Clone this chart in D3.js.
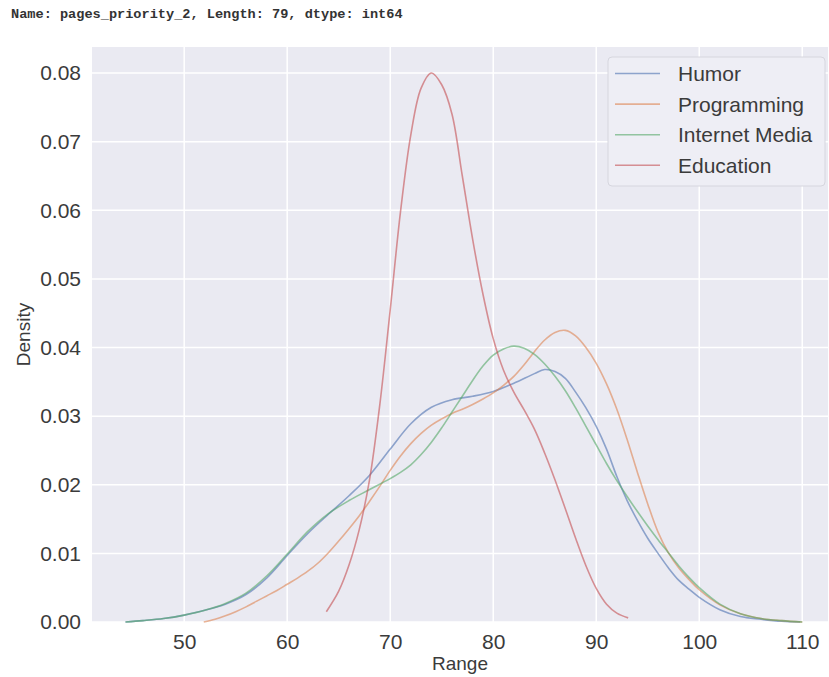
<!DOCTYPE html>
<html>
<head>
<meta charset="utf-8">
<script src="https://cdn.jsdelivr.net/npm/d3@7"></script>
<style>
    body { margin: 0; background: #ffffff; }
    .header { font-family: "Liberation Mono", "DejaVu Sans Mono", monospace; font-weight: bold; font-size: 13.6px; fill: #333333; }
    .tick text { font-family: "Liberation Sans", Arial, sans-serif; font-size: 21px; fill: #3b3b3b; }
    .label { font-family: "Liberation Sans", Arial, sans-serif; font-size: 19px; fill: #3b3b3b; }
    .legend text { font-family: "Liberation Sans", Arial, sans-serif; font-size: 21px; fill: #3b3b3b; }
</style>
</head>
<body>
<div id="chart"></div>
<script>

let seriesNames = ["Humor", "Programming", "Internet Media", "Education"];

let seriesColors = ["#4c72b0", "#dd8452", "#55a868", "#c44e52"];

let xTicks = [50, 60, 70, 80, 90, 100, 110];

let yTicks = [0.00, 0.01, 0.02, 0.03, 0.04, 0.05, 0.06, 0.07, 0.08];

// KDE curves: [range, density]
let humor = [
    [44.3, 0.0000], [46, 0.0002], [48, 0.0005], [50, 0.0010], [52, 0.0017], [54, 0.0026],
    [56, 0.0040], [58, 0.0064], [60, 0.0097], [62, 0.0129], [64, 0.0157], [66, 0.0184],
    [68, 0.0214], [70, 0.0252], [72, 0.0289], [74, 0.0313], [76, 0.0324], [78, 0.0329],
    [80, 0.0336], [82, 0.0348], [84, 0.0362], [85, 0.0368], [86, 0.0365], [87, 0.0355],
    [88, 0.0335], [89, 0.0312], [90, 0.0285], [91, 0.0252], [92, 0.0212], [93, 0.0177],
    [94, 0.0148], [95, 0.0122], [96, 0.0100], [97, 0.0079], [98, 0.0061], [99, 0.0048],
    [100, 0.0036], [102, 0.0018], [104, 0.0008], [106, 0.0004], [108, 0.0001], [109.8, 0.0000]
];

let programming = [
    [51.9, 0.0000], [53, 0.0004], [54, 0.0009], [55, 0.0015], [56, 0.0022], [57, 0.0030],
    [58, 0.0038], [59, 0.0046], [60, 0.0055], [61, 0.0064], [62, 0.0074], [63, 0.0086],
    [64, 0.0101], [65, 0.0118], [66, 0.0136], [67, 0.0155], [68, 0.0176], [69, 0.0198],
    [70, 0.0221], [71, 0.0242], [72, 0.0260], [73, 0.0275], [74, 0.0287], [75, 0.0296],
    [76, 0.0304], [77, 0.0310], [78, 0.0317], [79, 0.0325], [80, 0.0334], [81, 0.0345],
    [82, 0.0358], [83, 0.0375], [84, 0.0394], [85, 0.0411], [86, 0.0422], [87, 0.0425],
    [88, 0.0417], [89, 0.0400], [90, 0.0377], [91, 0.0347], [92, 0.0310], [93, 0.0266],
    [94, 0.0218], [95, 0.0172], [96, 0.0131], [97, 0.0101], [98, 0.0079], [99, 0.0062],
    [100, 0.0047], [102, 0.0025], [104, 0.0012], [106, 0.0005], [108, 0.0002], [110, 0.0000]
];

let internetMedia = [
    [44.3, 0.0000], [46, 0.0002], [48, 0.0005], [50, 0.0010], [52, 0.0017], [54, 0.0027],
    [56, 0.0042], [58, 0.0067], [60, 0.0099], [62, 0.0132], [64, 0.0158], [66, 0.0177],
    [68, 0.0193], [70, 0.0209], [71, 0.0218], [72, 0.0229], [73, 0.0244], [74, 0.0262],
    [75, 0.0283], [76, 0.0306], [77, 0.0329], [78, 0.0352], [79, 0.0373], [80, 0.0389],
    [81, 0.0398], [82, 0.0402], [83, 0.0399], [84, 0.0390], [85, 0.0376], [86, 0.0358],
    [87, 0.0337], [88, 0.0312], [89, 0.0285], [90, 0.0258], [91, 0.0231], [92, 0.0206],
    [93, 0.0183], [94, 0.0161], [95, 0.0140], [96, 0.0120], [97, 0.0101], [98, 0.0082],
    [99, 0.0065], [100, 0.0050], [102, 0.0026], [104, 0.0012], [106, 0.0005], [108, 0.0002],
    [110, 0.0000]
];

let education = [
    [63.8, 0.0015], [65, 0.0045], [66, 0.0083], [67, 0.0135], [68, 0.0208], [69, 0.0318],
    [70, 0.0455], [71, 0.0598], [72, 0.0710], [73, 0.0778], [74, 0.0800], [75, 0.0783],
    [76, 0.0740], [77, 0.0650], [78, 0.0558], [79, 0.0478], [80, 0.0413], [81, 0.0367],
    [82, 0.0335], [83, 0.0309], [84, 0.0281], [85, 0.0246], [86, 0.0207], [87, 0.0165],
    [88, 0.0122], [89, 0.0082], [90, 0.0049], [91, 0.0026], [92, 0.0013], [93.1, 0.0006]
];

let allSeries = [humor, programming, internetMedia, education];

let margin = {container_width: 829, container_height: 677, top: 47, right: 1, bottom: 55, left: 92},
    width = margin.container_width - margin.left - margin.right,
    height = margin.container_height - margin.top - margin.bottom;

let root = d3.select("#chart")
    .append("svg")
    .attr("width", margin.container_width)
    .attr("height", margin.container_height);

root.append("text")
    .attr("class", "header")
    .attr("x", 11)
    .attr("y", 17.5)
    .text("Name: pages_priority_2, Length: 79, dtype: int64");

let svg = root.append("g")
    .attr("transform", "translate(" + margin.left + "," + margin.top + ")");

let x = d3.scaleLinear()
    .domain([41.05, 112.5])
    .range([0, width]);

let y = d3.scaleLinear()
    .domain([0, 0.0838])
    .range([height, 0]);

svg.append("rect")
    .attr("width", width)
    .attr("height", height)
    .attr("fill", "#eaeaf2");

// grid
svg.append("g")
    .selectAll("line")
    .data(xTicks)
    .enter()
    .append("line")
    .attr("x1", function(d) { return x(d); })
    .attr("x2", function(d) { return x(d); })
    .attr("y1", 0)
    .attr("y2", height)
    .attr("stroke", "#ffffff")
    .attr("stroke-width", 1.5);

svg.append("g")
    .selectAll("line")
    .data(yTicks)
    .enter()
    .append("line")
    .attr("x1", 0)
    .attr("x2", width)
    .attr("y1", function(d) { return y(d); })
    .attr("y2", function(d) { return y(d); })
    .attr("stroke", "#ffffff")
    .attr("stroke-width", 1.5);

let xAxis = svg.append("g")
    .attr("class", "axis x-axis")
    .attr("transform", "translate(0," + height + ")")
    .call(d3.axisBottom(x).tickValues(xTicks).tickSize(0).tickPadding(10));

let yAxis = svg.append("g")
    .attr("class", "axis y-axis")
    .call(d3.axisLeft(y).tickValues(yTicks).tickSize(0).tickPadding(11).tickFormat(d3.format(".2f")));

svg.selectAll(".domain").remove();

xAxis.selectAll("text").attr("dy", "0.8em");

svg.append("text")
    .attr("class", "label")
    .attr("text-anchor", "middle")
    .attr("x", width / 2)
    .attr("y", height + 48)
    .text("Range");

svg.append("text")
    .attr("class", "label")
    .attr("text-anchor", "middle")
    .attr("transform", "translate(" + (-62) + "," + (height / 2) + ") rotate(-90)")
    .text("Density");

let line = d3.line()
    .x(function(d) { return x(d[0]); })
    .y(function(d) { return y(d[1]); })
    .curve(d3.curveCatmullRom.alpha(0.5));

svg.append("g")
    .selectAll("path")
    .data(allSeries)
    .enter()
    .append("path")
    .attr("d", function(d) { return line(d); })
    .attr("fill", "none")
    .attr("stroke", function(d, i) { return seriesColors[i]; })
    .attr("stroke-opacity", 0.6)
    .attr("stroke-width", 1.6);

// legend
let legend = svg.append("g")
    .attr("class", "legend")
    .attr("transform", "translate(" + (width - 220) + ",10)");

legend.append("rect")
    .attr("width", 217)
    .attr("height", 129)
    .attr("rx", 4)
    .attr("fill", "#eeeef5")
    .attr("stroke", "#d6d6de")
    .attr("stroke-width", 1);

let rows = legend.selectAll(".row")
    .data(seriesNames)
    .enter()
    .append("g")
    .attr("class", "row")
    .attr("transform", function(d, i) { return "translate(0," + (16.5 + i * 30.6) + ")"; });

rows.append("line")
    .attr("x1", 7)
    .attr("x2", 52)
    .attr("stroke", function(d, i) { return seriesColors[i]; })
    .attr("stroke-opacity", 0.6)
    .attr("stroke-width", 1.6);

rows.append("text")
    .attr("x", 70)
    .attr("dy", "0.36em")
    .text(function(d) { return d; });

</script>
</body>
</html>
